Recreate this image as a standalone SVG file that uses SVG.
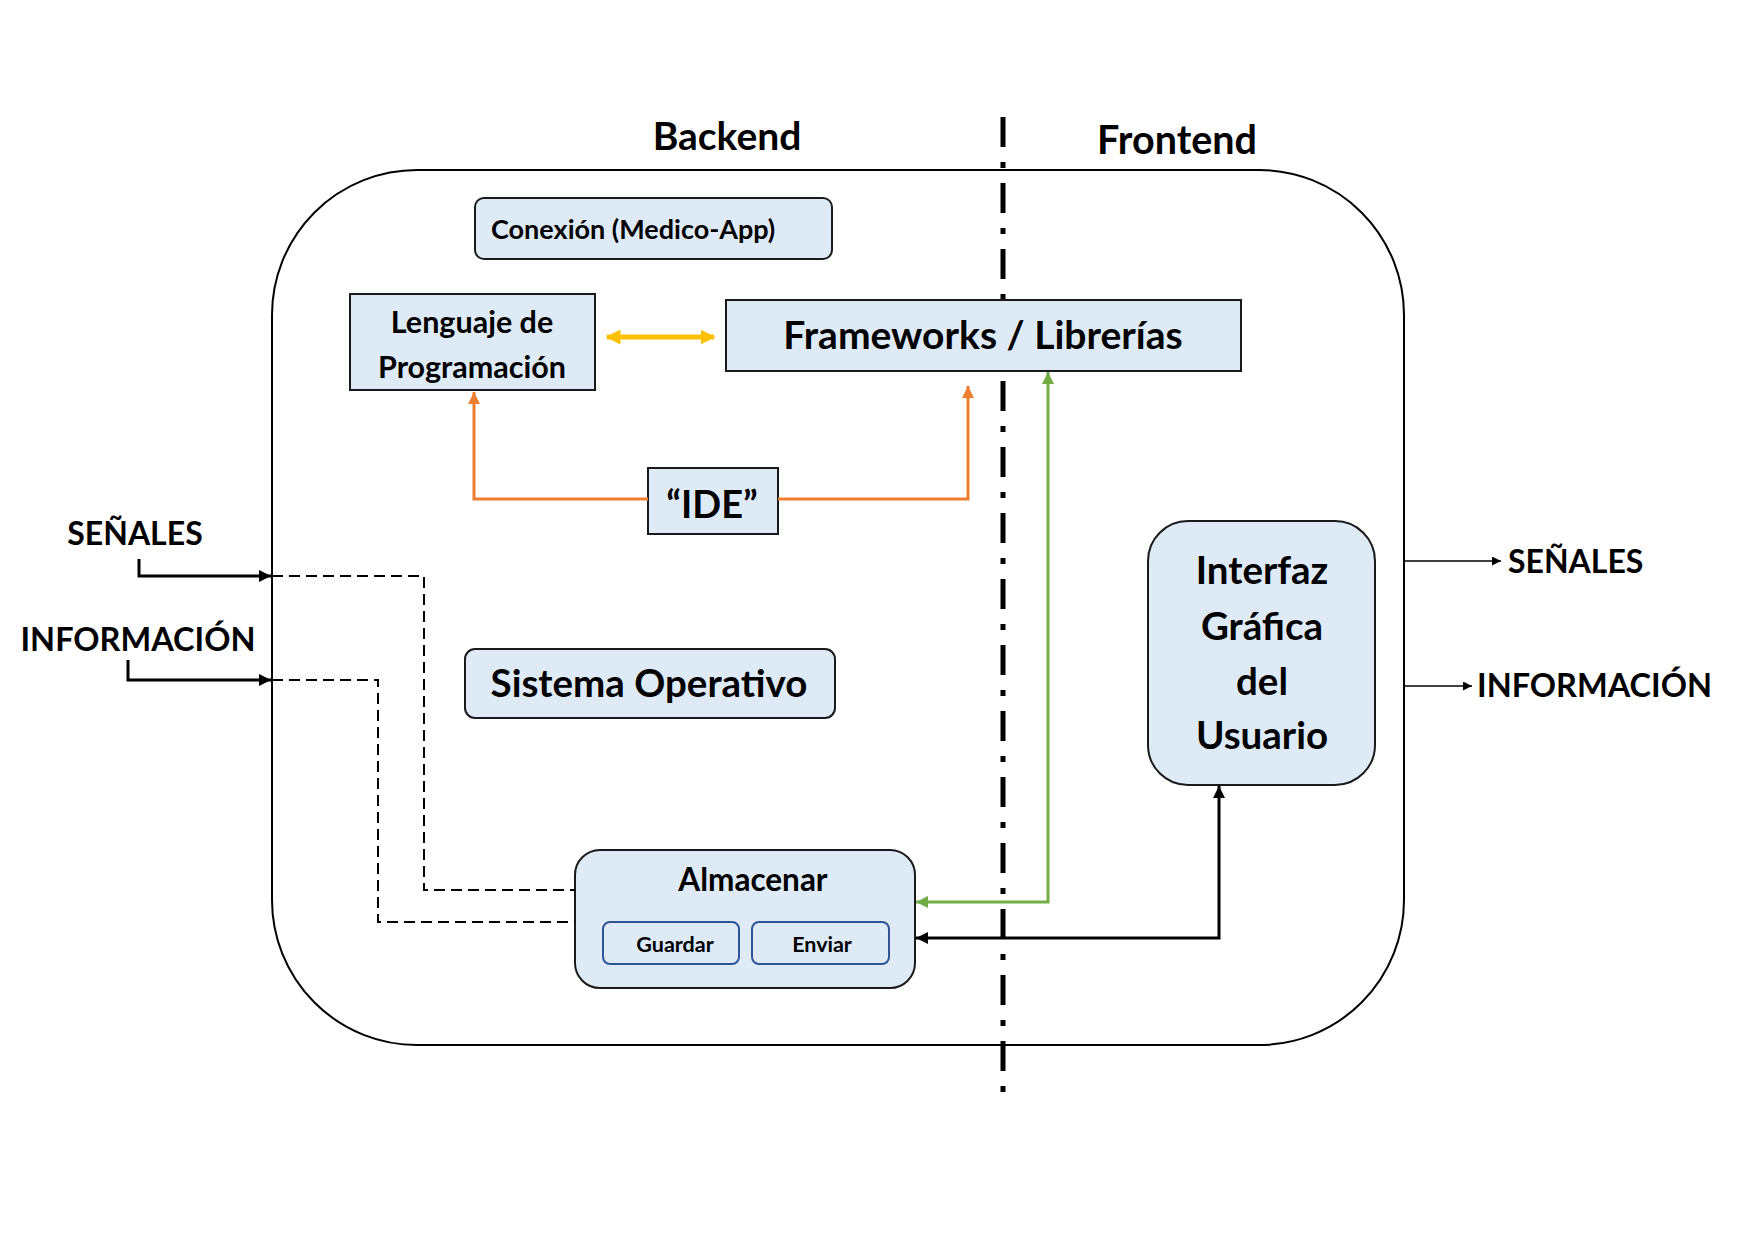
<svg xmlns="http://www.w3.org/2000/svg" width="1754" height="1240" viewBox="0 0 1754 1240">
<defs>
<style>
text{font-family:Lato,"Open Sans","Liberation Sans",sans-serif;font-weight:bold;fill:#000}
.box{fill:#DEEBF7;stroke:#1a1a1a;stroke-width:2}
.sub{fill:#DEEBF7;stroke:#2F5597;stroke-width:2}
.c{text-anchor:middle}
.dash{fill:none;stroke:#000;stroke-width:2;stroke-dasharray:11 6}
</style>
<marker id="ab" viewBox="0 0 10 10" refX="10" refY="5" markerWidth="4" markerHeight="4" orient="auto-start-reverse" markerUnits="strokeWidth"><path d="M0,0 L10,5 L0,10 z" fill="#000"/></marker>
<marker id="abt" viewBox="0 0 10 10" refX="10" refY="5" markerWidth="6" markerHeight="6" orient="auto" markerUnits="strokeWidth"><path d="M0,0 L10,5 L0,10 z" fill="#000"/></marker>
<marker id="ao" viewBox="0 0 10 10" refX="10" refY="5" markerWidth="4" markerHeight="4" orient="auto" markerUnits="strokeWidth"><path d="M0,0 L10,5 L0,10 z" fill="#ED7D31"/></marker>
<marker id="ag" viewBox="0 0 10 10" refX="10" refY="5" markerWidth="4" markerHeight="4" orient="auto-start-reverse" markerUnits="strokeWidth"><path d="M0,0 L10,5 L0,10 z" fill="#70AD47"/></marker>
<marker id="ay" viewBox="0 0 10 10" refX="9" refY="5" markerWidth="3" markerHeight="3" orient="auto-start-reverse" markerUnits="strokeWidth"><path d="M0,0 L10,5 L0,10 z" fill="#FFC000"/></marker>
</defs>
<rect width="1754" height="1240" fill="#fff"/>
<g id="container"><rect x="272" y="170" width="1132" height="875" rx="145" fill="none" stroke="#000" stroke-width="2"/></g>
<g id="labels">
<text class="c" x="727" y="150" font-size="39">Backend</text>
<text class="c" x="1177" y="154" font-size="39.5">Frontend</text>
</g>
<g id="divider"><line x1="1003" y1="117" x2="1003" y2="1102" stroke="#000" stroke-width="5" stroke-dasharray="30 15 6 15"/></g>
<g id="conexion"><rect class="box" x="475" y="198" width="357" height="61" rx="9"/><text x="491" y="239" font-size="27">Conexión (Medico-App)</text></g>
<g id="lenguaje"><rect class="box" x="350" y="294" width="245" height="96"/><text class="c" x="472" y="333" font-size="30.5">Lenguaje de</text><text class="c" x="472" y="378" font-size="30.5">Programación</text></g>
<g id="frameworks"><rect class="box" x="726" y="300" width="515" height="71"/><text class="c" x="983" y="349" font-size="39">Frameworks / Librerías</text></g>
<g id="ide"><rect class="box" x="648" y="468" width="130" height="66"/><text class="c" x="712" y="518" font-size="38">“IDE”</text></g>
<g id="so"><rect class="box" x="465" y="649" width="370" height="69" rx="10"/><text class="c" x="649" y="697" font-size="38.5">Sistema Operativo</text></g>
<g id="interfaz"><rect class="box" x="1148" y="521" width="227" height="264" rx="40"/>
<text class="c" x="1262" y="584" font-size="38.5">Interfaz</text><text class="c" x="1262" y="640" font-size="38.5">Gráfica</text><text class="c" x="1262" y="695" font-size="38.5">del</text><text class="c" x="1262" y="749" font-size="38.5">Usuario</text></g>
<g id="almacenar"><rect class="box" x="575" y="850" width="340" height="138" rx="25"/><text class="c" x="753" y="891" font-size="31.5">Almacenar</text>
<g id="guardar"><rect class="sub" x="603" y="922" width="136" height="42" rx="7"/><text class="c" x="675" y="952" font-size="21.5">Guardar</text></g>
<g id="enviar"><rect class="sub" x="752" y="922" width="137" height="42" rx="7"/><text class="c" x="822" y="952" font-size="21.5">Enviar</text></g>
</g>
<g id="io">
<text class="c" x="135" y="545" font-size="32">SEÑALES</text>
<text class="c" x="138" y="651" font-size="32.5">INFORMACIÓN</text>
<text x="1508" y="573" font-size="32">SEÑALES</text>
<text x="1477" y="697" font-size="32.5">INFORMACIÓN</text>
</g>
<g id="connectors" fill="none">
<line x1="607" y1="337" x2="714" y2="337" stroke="#FFC000" stroke-width="5" marker-start="url(#ay)" marker-end="url(#ay)"/>
<polyline points="648,499 474,499 474,392" stroke="#ED7D31" stroke-width="3" marker-end="url(#ao)"/>
<polyline points="778,499 968,499 968,386" stroke="#ED7D31" stroke-width="3" marker-end="url(#ao)"/>
<polyline points="1048,372 1048,902 916,902" stroke="#70AD47" stroke-width="3" marker-start="url(#ag)" marker-end="url(#ag)"/>
<polyline points="916,938 1219,938 1219,786" stroke="#000" stroke-width="3" marker-start="url(#ab)" marker-end="url(#ab)"/>
<polyline points="139,559 139,576 271,576" stroke="#000" stroke-width="3" marker-end="url(#ab)"/>
<polyline points="128,660 128,680 271,680" stroke="#000" stroke-width="3" marker-end="url(#ab)"/>
<polyline class="dash" points="272,576 424,576 424,890 575,890"/>
<polyline class="dash" points="272,680 378,680 378,922 575,922"/>
<line x1="1404" y1="561" x2="1501" y2="561" stroke="#000" stroke-width="1.5" marker-end="url(#abt)"/>
<line x1="1404" y1="686" x2="1472" y2="686" stroke="#000" stroke-width="1.5" marker-end="url(#abt)"/>
</g>
</svg>
